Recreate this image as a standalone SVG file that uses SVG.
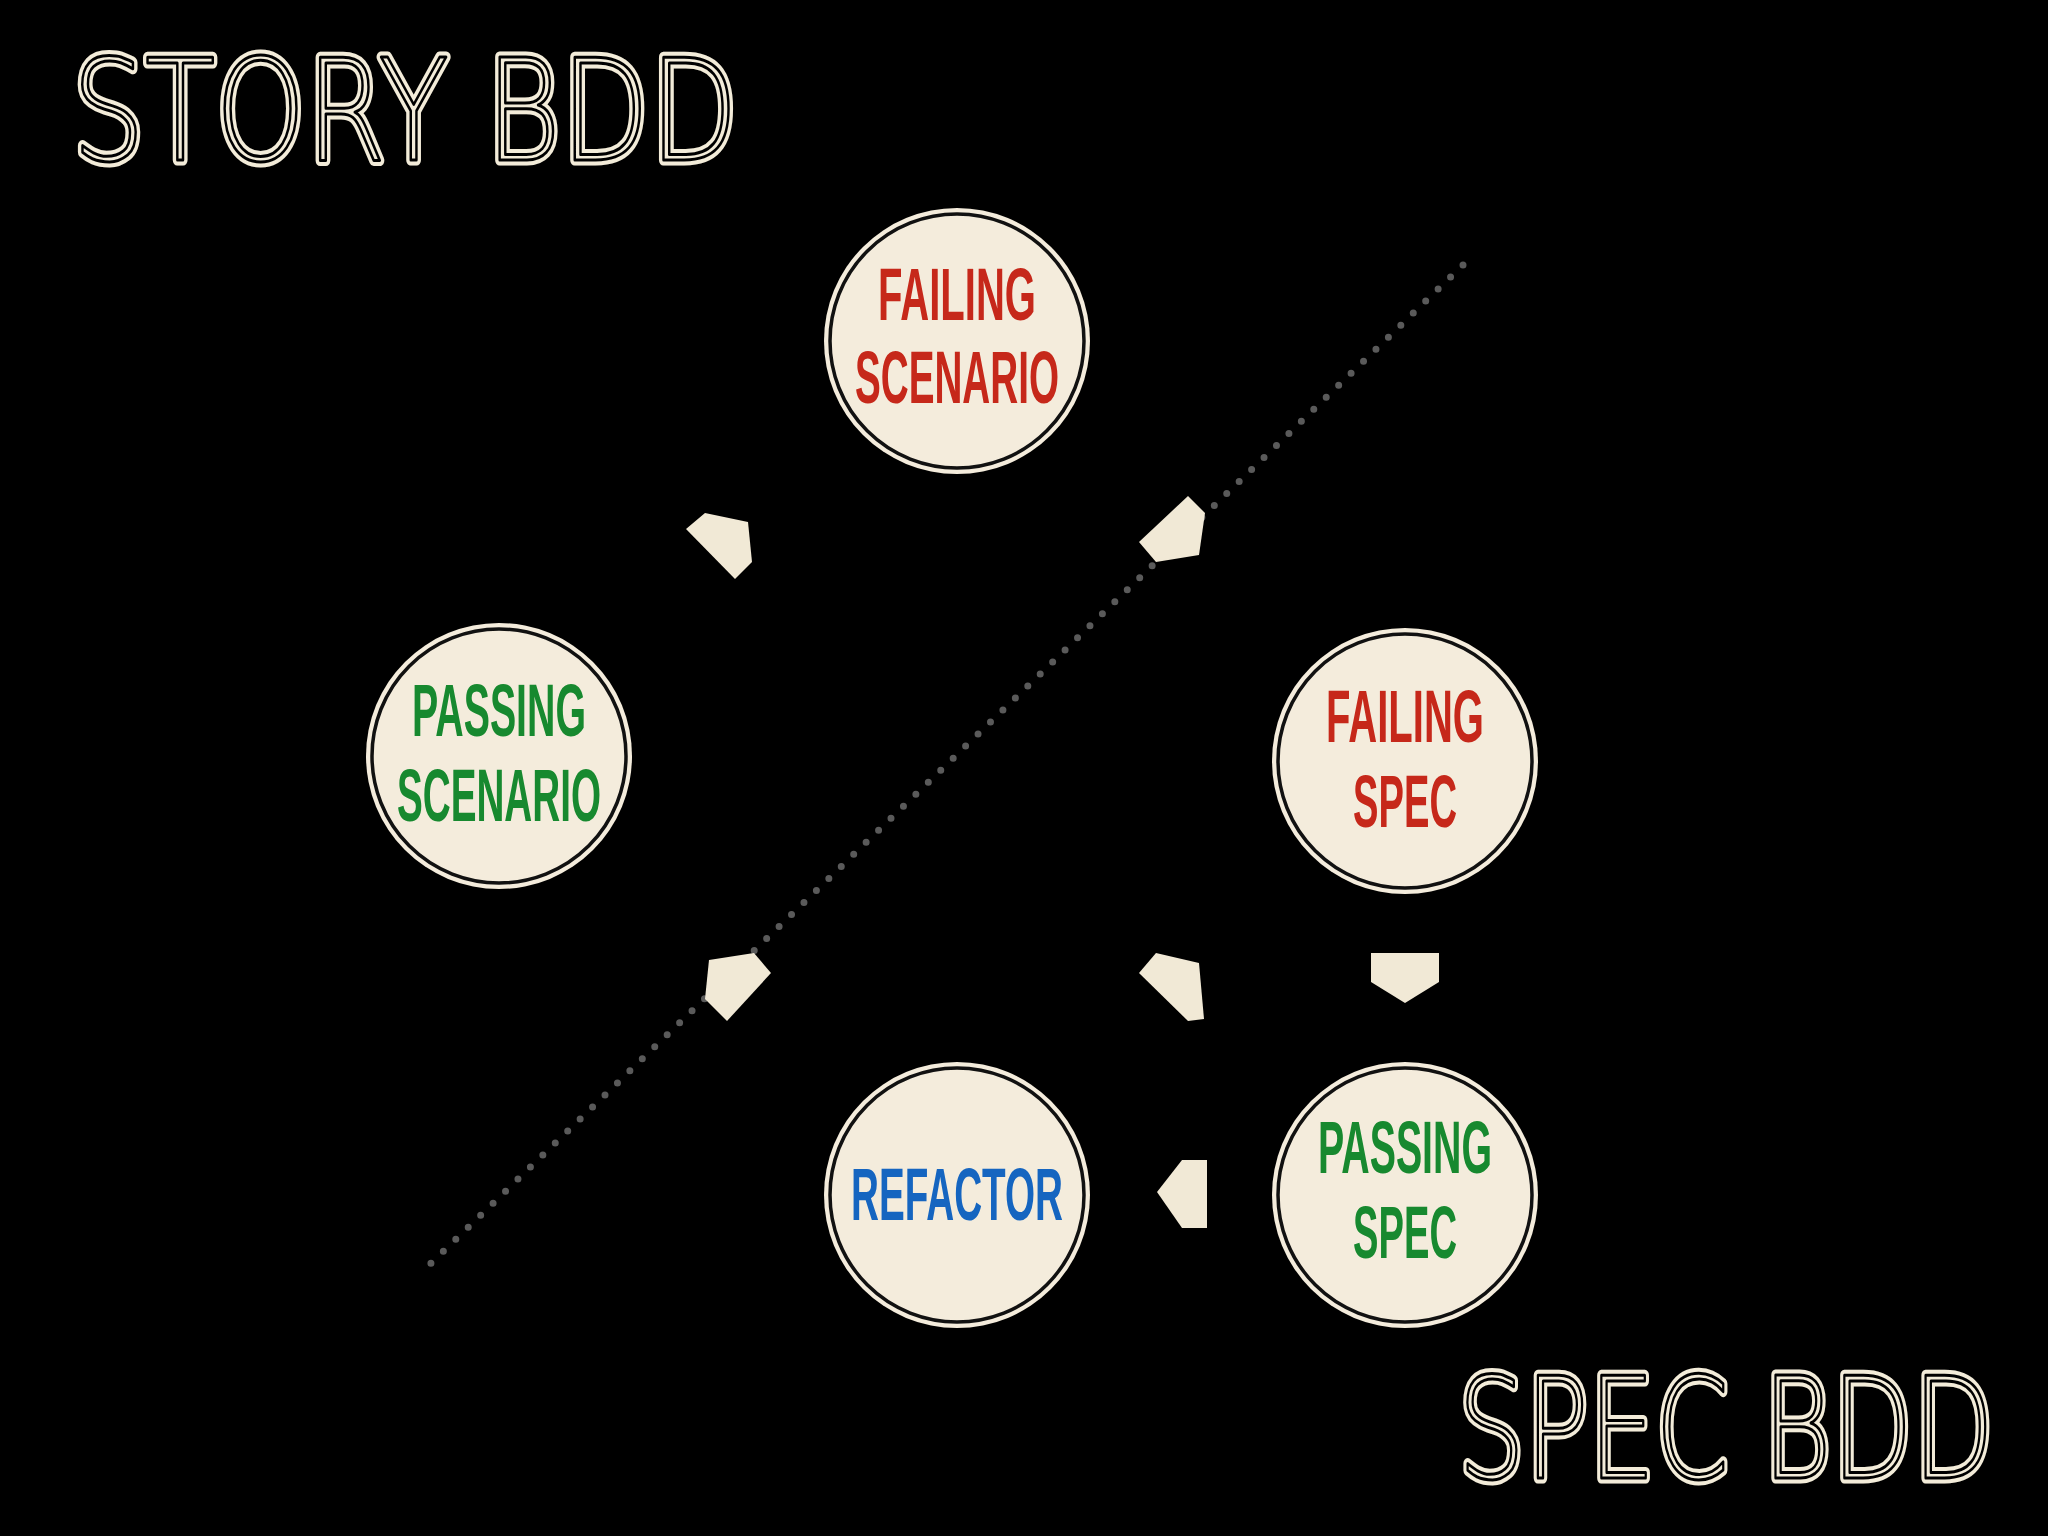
<svg xmlns="http://www.w3.org/2000/svg" width="2048" height="1536" viewBox="0 0 2048 1536">
<style>
.bg{fill:#000}
.outer{fill:#f4ecdc}
.ring{fill:none;stroke:#111;stroke-width:3.5}
.lbl{font-family:"Liberation Sans",Arial,sans-serif;font-weight:bold;font-size:74px;text-anchor:middle}
.red{fill:#c6281a}.green{fill:#17892f}.blue{fill:#1565c0}
.title{font-family:"DejaVu Sans",sans-serif;font-weight:300;font-size:140px}
.t1{fill:none;stroke:#f3ecd9;stroke-width:11;stroke-linejoin:round}
.t2{fill:none;stroke:#000;stroke-width:3;stroke-linejoin:round}
.arrow{fill:#f1e9d6}
</style>
<rect class="bg" width="2048" height="1536"/>
<g id="title-story">
<text class="title t1" x="72" y="160" textLength="666" lengthAdjust="spacingAndGlyphs">STORY BDD</text>
<text class="title t2" x="72" y="160" textLength="666" lengthAdjust="spacingAndGlyphs">STORY BDD</text>
</g>
<g id="title-spec">
<text class="title t1" x="1458" y="1478" textLength="536" lengthAdjust="spacingAndGlyphs">SPEC BDD</text>
<text class="title t2" x="1458" y="1478" textLength="536" lengthAdjust="spacingAndGlyphs">SPEC BDD</text>
</g>
<g id="connectors">
<line x1="1463" y1="265" x2="424" y2="1270" stroke="#5a5a5a" stroke-width="7" stroke-linecap="round" stroke-dasharray="0 17.3"/>
<polygon class="arrow" points="686,529 705,513 748,522 752,562 735,579"/>
<polygon class="arrow" points="1139,542 1188,496 1205,513 1199,555 1156,562"/>
<polygon class="arrow" points="709,960 754,953 771,973 727,1021 705,999"/>
<polygon class="arrow" points="1139,973 1156,953 1199,963 1204,1019 1188,1021"/>
<polygon class="arrow" points="1371,953 1439,953 1439,982 1405,1003 1371,982"/>
<polygon class="arrow" points="1207,1160 1207,1228 1182,1228 1157,1192 1182,1160"/>
</g>
<g id="failing-scenario">
<circle class="outer" cx="957" cy="341" r="133"/><circle class="ring" cx="957" cy="341" r="127"/>
<text class="lbl red" x="957" y="320" textLength="158" lengthAdjust="spacingAndGlyphs">FAILING</text>
<text class="lbl red" x="957" y="403" textLength="204" lengthAdjust="spacingAndGlyphs">SCENARIO</text>
</g>
<g id="passing-scenario">
<circle class="outer" cx="499" cy="756" r="133"/><circle class="ring" cx="499" cy="756" r="127"/>
<text class="lbl green" x="499" y="736" textLength="174" lengthAdjust="spacingAndGlyphs">PASSING</text>
<text class="lbl green" x="499" y="821" textLength="204" lengthAdjust="spacingAndGlyphs">SCENARIO</text>
</g>
<g id="failing-spec">
<circle class="outer" cx="1405" cy="761" r="133"/><circle class="ring" cx="1405" cy="761" r="127"/>
<text class="lbl red" x="1405" y="742" textLength="158" lengthAdjust="spacingAndGlyphs">FAILING</text>
<text class="lbl red" x="1405" y="827" textLength="104" lengthAdjust="spacingAndGlyphs">SPEC</text>
</g>
<g id="refactor">
<circle class="outer" cx="957" cy="1195" r="133"/><circle class="ring" cx="957" cy="1195" r="127"/>
<text class="lbl blue" x="957" y="1220" textLength="212" lengthAdjust="spacingAndGlyphs">REFACTOR</text>
</g>
<g id="passing-spec">
<circle class="outer" cx="1405" cy="1195" r="133"/><circle class="ring" cx="1405" cy="1195" r="127"/>
<text class="lbl green" x="1405" y="1173" textLength="174" lengthAdjust="spacingAndGlyphs">PASSING</text>
<text class="lbl green" x="1405" y="1258" textLength="104" lengthAdjust="spacingAndGlyphs">SPEC</text>
</g>
</svg>
